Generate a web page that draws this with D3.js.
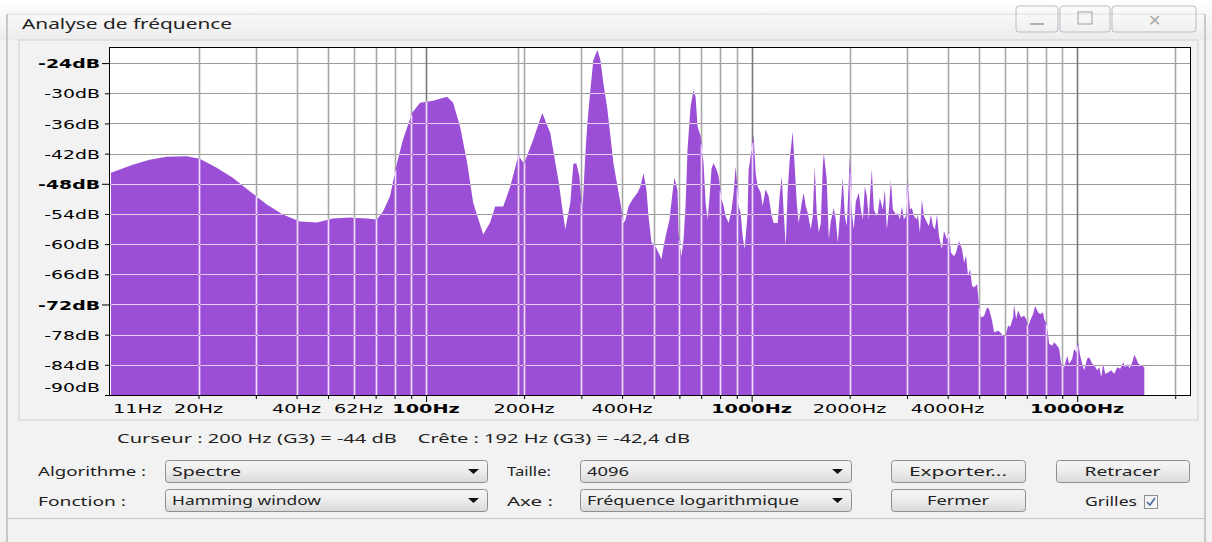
<!DOCTYPE html>
<html><head><meta charset="utf-8">
<script src="https://cdn.jsdelivr.net/npm/d3@7"></script>
<style>body{margin:0;background:#fff}svg{display:block}</style>
</head><body>
<svg id="c" width="1212" height="542"></svg>
<script>
// ---------- DATA ----------
const freqs = [10.77,12.55,14.15,15.96,18.39,20.17,22.75,25.48,28.74,32.42,36.31,40.96,46.19,51.73,58.37,65.84,70.67,73.74,77.48,81.44,84.97,90.56,95.83,105.1,116.0,121.1,127.3,133.7,139.5,149.8,157.3,163.1,172.6,181.3,187.5,192,200,213.4,227.5,240.7,254.8,267.7,277.4,283.4,289.4,295.7,302.0,308.5,312.9,319.6,326.5,335.9,343.1,350.5,360.6,368.4,376.3,387.1,395.4,403.9,409.6,418.4,430.4,445.9,455.6,465.3,475.3,482.1,492.5,506.6,517.5,528.6,536.2,547.7,559.4,571.4,579.6,592.0,596.3,609.1,617.8,626.6,635.5,649.1,663.1,672.6,682.2,696.9,711.9,722.1,732.4,742.9,753.4,764.2,780.6,791.8,808.8,820.3,831.8,849.7,868.0,880.3,893.0,905.6,912.0,925.1,938.2,951.6,971.9,979.0,992.9,1014,1029,1043,1066,1081,1104,1128,1152,1169,1202,1219,1237,1255,1273,1291,1309,1337,1356,1376,1395,1425,1445,1466,1487,1519,1541,1562,1585,1608,1631,1654,1666,1701,1726,1750,1788,1813,1839,1878,1905,1933,1960,1989,2003,2032,2060,2089,2134,2165,2196,2227,2259,2291,2307,2340,2373,2424,2441,2476,2529,2566,2602,2640,2677,2715,2774,2813,2853,2894,2936,2978,3020,3063,3107,3151,3218,3241,3287,3334,3382,3455,3504,3554,3605,3657,3709,3762,3842,3897,3981,4038,4096,4183,4243,4335,4428,4492,4556,4621,4687,4754,4822,4925,4995,5067,5175,5286,5362,5476,5555,5714,5796,5921,6005,6134,6221,6355,6401,6492,6585,6726,6870,6968,7067,7169,7322,7427,7586,7695,7860,7916,8085,8200,8377,8496,8679,8803,8929,9120,9316,9449,9652,9790,9930,10072,10214,10361,10508,10735,10888,11122,11281,11523,11688,11854,12023,12195,12456,12723,12995,13274,13559,13850,14049,14350,14454,14764,14976,15190,15409,15739,16077];
const levels = [-45.8,-44.2,-43.2,-42.6,-42.5,-43.0,-44.8,-46.8,-49.5,-52.1,-54.1,-55.5,-55.7,-54.9,-54.7,-54.9,-55.1,-53.5,-50.5,-43.8,-39.2,-33.9,-31.9,-31.5,-30.7,-31.9,-36.7,-43.8,-51.7,-58.1,-55.7,-52.5,-52.5,-48.6,-45.0,-42.4,-44.0,-39.2,-33.9,-37.9,-47.2,-57.1,-51.7,-44.0,-43.9,-46.5,-53.8,-42.0,-36.0,-29.4,-23.4,-21.4,-23.4,-28.0,-33.3,-38.6,-43.9,-48.5,-51.8,-55.8,-55.2,-52.5,-51.1,-49.8,-48.5,-45.9,-49.2,-54.4,-59.7,-60.4,-61.7,-63.0,-60.5,-57.7,-55.1,-49.8,-46.8,-49.3,-57.7,-62.4,-59.0,-52.5,-41.2,-32.7,-29.4,-30.7,-36.6,-38.5,-43.9,-51.8,-55.1,-50.5,-44.9,-43.9,-45.2,-46.5,-51.1,-52.4,-54.4,-55.8,-53.1,-49.8,-44.5,-49.1,-52.4,-53.8,-58.4,-61.0,-53.8,-45.2,-42.5,-38.3,-45.9,-48.5,-49.8,-52.4,-49.1,-50.5,-54.4,-55.8,-55.8,-50.5,-46.5,-53.8,-60.4,-49.1,-43.2,-37.6,-44.5,-51.8,-55.8,-51.8,-49.8,-52.4,-53.8,-57.1,-54.4,-44.5,-53.8,-57.7,-55.8,-44.5,-41.9,-47.2,-59.0,-55.5,-52.8,-55.1,-59.7,-52.5,-46.8,-54.4,-56.4,-47.2,-42.2,-53.8,-57.1,-51.5,-49.8,-53.1,-55.1,-48.5,-50.5,-55.1,-51.1,-45.1,-53.1,-54.4,-53.8,-50.8,-53.1,-49.1,-57.1,-53.1,-47.2,-53.1,-54.1,-53.8,-55.1,-52.5,-55.1,-54.4,-47.2,-53.1,-52.8,-54.4,-55.1,-54.1,-57.7,-51.1,-54.4,-55.7,-56.4,-54.1,-56.4,-57.1,-54.1,-58.4,-61.0,-57.4,-59.1,-57.4,-61.7,-62.4,-61.7,-59.4,-61.0,-63.7,-62.3,-66.3,-65.0,-68.3,-68.6,-68.0,-72.2,-74.6,-74.3,-72.6,-72.9,-75.2,-77.5,-77.2,-77.5,-78.2,-78.5,-76.2,-76.5,-74.6,-72.0,-74.9,-73.2,-74.6,-74.2,-74.9,-76.5,-75.2,-73.9,-72.3,-73.6,-73.9,-73.6,-74.9,-76.2,-79.8,-80.2,-79.5,-80.2,-80.8,-83.8,-84.5,-82.2,-83.8,-82.8,-80.8,-81.5,-79.5,-82.2,-83.8,-85.1,-82.8,-82.5,-83.8,-84.1,-85.1,-84.5,-86.4,-83.8,-85.8,-85.5,-85.1,-85.8,-84.5,-84.8,-83.5,-84.5,-83.8,-84.8,-83.5,-82.0,-82.8,-83.8,-84.1,-84.5];

const yTickValues = [-24,-30,-36,-42,-48,-54,-60,-66,-72,-78,-84,-90];
const yMajor = [-24,-48,-72];
const xTickValues = [20,30,40,50,60,70,80,90,100,200,300,400,500,600,700,800,900,1000,2000,3000,4000,5000,6000,7000,8000,9000,10000,20000];
const xMajor = [100,1000,10000];
const xLabelFreqs = [10.77,20,40,62,100,200,400,1000,2000,4000,10000];
const xLabelTexts = ["11Hz","20Hz","40Hz","62Hz","100Hz","200Hz","400Hz","1000Hz","2000Hz","4000Hz","10000Hz"];
const cursorFreq = 192;
const infoText = "Curseur : 200 Hz (G3) = -44 dB    Crête : 192 Hz (G3) = -42,4 dB";

const spectrum = freqs.map((f,i)=>({f, db: levels[i]}));

// ---------- SETUP ----------
const svg = d3.select("#c");
const P = {l:109, t:47, r:1190, b:395};
const x = d3.scaleLog().domain([10.77, 22050]).range([111, 1189]);
const y = d3.scaleLinear().domain([-90, -20.8]).range([P.b, P.t]);
const purple = "#9b4fd6";
const uiFont = "'Noto Sans', 'Open Sans', sans-serif";
const axFont = "'DejaVu Sans', Verdana, sans-serif";

function fit(sel, w){ sel.attr("textLength", w).attr("lengthAdjust","spacingAndGlyphs"); return sel; }
function stretch(sel, k){ sel.each(function(){ const w=this.getComputedTextLength(); d3.select(this).attr("textLength", w*k).attr("lengthAdjust","spacingAndGlyphs"); }); }

const defs = svg.append("defs");

// window background
svg.append("rect").attr("width",1212).attr("height",542).attr("fill","#f2f2f2");
const tg = defs.append("linearGradient").attr("id","tbar").attr("x1",0).attr("y1",0).attr("x2",0).attr("y2",1);
tg.append("stop").attr("offset",0).attr("stop-color","#ffffff");
tg.append("stop").attr("offset",1).attr("stop-color","#ececec");
svg.append("rect").attr("x",0).attr("y",0).attr("width",1212).attr("height",40).attr("fill","url(#tbar)");
svg.append("line").attr("x1",7).attr("x2",7).attr("y1",14).attr("y2",542).attr("stroke","#c8c8c8").attr("stroke-width",2);
svg.append("line").attr("x1",7).attr("x2",1205).attr("y1",14).attr("y2",14).attr("stroke","#dcdcdc");
svg.append("line").attr("x1",1205).attr("x2",1205).attr("y1",14).attr("y2",542).attr("stroke","#c8c8c8").attr("stroke-width",2);

// title
fit(svg.append("text").attr("x",22).attr("y",29).attr("font-family",uiFont).attr("font-size",14).attr("fill","#222").text("Analyse de fréquence"), 210);

// window buttons
const wb = svg.append("g").attr("fill","none").attr("stroke","#b8bcc4");
wb.append("rect").attr("x",1016).attr("y",6).attr("width",42).attr("height",26).attr("rx",3);
wb.append("rect").attr("x",1060).attr("y",6).attr("width",50).attr("height",26).attr("rx",3);
wb.append("rect").attr("x",1112).attr("y",6).attr("width",84).attr("height",26).attr("rx",3);
svg.append("line").attr("x1",1030).attr("x2",1044).attr("y1",24).attr("y2",24).attr("stroke","#b0b0b0").attr("stroke-width",2);
svg.append("rect").attr("x",1078).attr("y",12).attr("width",14).attr("height",12).attr("fill","none").attr("stroke","#a0a0a0");
svg.append("text").attr("x",1154).attr("y",26).attr("text-anchor","middle").attr("font-family",uiFont).attr("font-size",16).attr("fill","#a8a8a8").text("✕");

// plot panel border
svg.append("rect").attr("x",19).attr("y",40).attr("width",1179).attr("height",380).attr("fill","none").attr("stroke","#d0d0d0");

// plot area
svg.append("rect").attr("x",P.l).attr("y",P.t).attr("width",P.r-P.l).attr("height",P.b-P.t).attr("fill","#fff");

// spectrum outline in screen space (through the scales)
const pts = spectrum.map(d=>[x(d.f), y(d.db)]);
function curveYAt(px){
  if (px < pts[0][0] || px > pts[pts.length-1][0]) return null;
  for (let i=1;i<pts.length;i++) if (px <= pts[i][0]) {
    const a=pts[i-1], b=pts[i]; const t=(px-a[0])/(b[0]-a[0]); return a[1]+t*(b[1]-a[1]);
  }
  return null;
}
function coveredSpans(yl){
  const out=[]; let start=null;
  for (let i=0;i<pts.length;i++){
    const xi=pts[i][0], yi=pts[i][1]; const inside = yi<=yl;
    if (i===0){ if(inside) start=xi; continue; }
    const xp=pts[i-1][0], yp=pts[i-1][1]; const prev = yp<=yl;
    if (inside!==prev){ const t=(yl-yp)/(yi-yp); const xc=xp+t*(xi-xp); if(inside) start=xc; else { out.push([start,xc]); start=null; } }
  }
  if (start!==null) out.push([start, pts[pts.length-1][0]]);
  return out;
}
function uncoveredSpans(yl){
  const cov = coveredSpans(yl); const out=[]; let cur=P.l;
  cov.forEach(([a,b])=>{ if (a>cur) out.push([cur,a]); cur=Math.max(cur,b); });
  if (cur<P.r) out.push([cur,P.r]);
  return out;
}

const hLinesY = yTickValues.filter(v=>v>-90).map(v=>Math.round(y(v))+0.5);
const vLines = xTickValues.concat([cursorFreq]).map(f=>({f, px: Math.round(x(f))+0.5}));
vLines.forEach(d=>{ const c = curveYAt(d.px); d.cy = (c===null) ? P.b : Math.max(c, P.t); });

// grey grid on the white part
const gGrey = svg.append("g");
hLinesY.forEach(yl=> uncoveredSpans(yl).forEach(([a,b])=>
  gGrey.append("line").attr("x1",a).attr("x2",b).attr("y1",yl).attr("y2",yl).attr("stroke","#9a9a9a")));
vLines.forEach(d=> gGrey.append("line").attr("x1",d.px).attr("x2",d.px).attr("y1",P.t).attr("y2",d.cy)
  .attr("stroke", xMajor.includes(d.f) ? "#7a7a7a" : "#a8a8a8").attr("stroke-width",1.6));

// light grid under the spectrum (seen through gaps cut in the fill)
const gLight = svg.append("g");
let holes = "";
hLinesY.forEach(yl=> coveredSpans(yl).forEach(([a,b])=>{
  gLight.append("rect").attr("x",a).attr("y",yl-0.6).attr("width",Math.max(0,b-a)).attr("height",1.2).attr("fill","#e6cdf0");
  holes += `M${a},${yl-0.6}H${b}V${yl+0.6}H${a}Z`;
}));
vLines.filter(d=>d.cy<P.b).forEach(d=>{
  gLight.append("rect").attr("x",d.px-0.8).attr("y",d.cy).attr("width",1.6).attr("height",P.b-d.cy).attr("fill","#efdcf5");
  holes += `M${d.px-0.8},${d.cy}H${d.px+0.8}V${P.b}H${d.px-0.8}Z`;
});

// spectrum fill with grid gaps
const area = d3.area().x(d=>x(d.f)).y0(P.b).y1(d=>y(d.db));
svg.append("path").attr("d", area(spectrum) + holes).attr("fill", purple).attr("fill-rule","evenodd");

svg.append("rect").attr("x",P.l+0.5).attr("y",P.t+0.5).attr("width",P.r-P.l).attr("height",P.b-P.t).attr("fill","none").attr("stroke","#000");

// y axis
const yAxis = d3.axisLeft(y).tickValues(yTickValues).tickFormat(d=>d+"dB").tickSizeOuter(0);
const gy = svg.append("g").attr("transform",`translate(${P.l},0)`).call(yAxis);
gy.select(".domain").remove();
gy.selectAll(".tick line").attr("x2", d=> yMajor.includes(d) ? -7 : -4).attr("stroke","#000");
gy.selectAll(".tick text").attr("x",-9).attr("font-family",axFont).attr("font-size",13)
  .attr("font-weight", d=> yMajor.includes(d) ? "bold" : "normal").attr("fill","#000")
  .attr("dy", d=> d===-90 ? "-0.3em" : "0.36em");
stretch(gy.selectAll(".tick text"), 1.45);

// x axis
const xAxis = d3.axisBottom(x).tickValues(xTickValues).tickFormat("").tickSizeOuter(0);
const gx = svg.append("g").attr("transform",`translate(0,${P.b})`).call(xAxis);
gx.select(".domain").remove();
gx.selectAll(".tick line").attr("y2", d=> xMajor.includes(d) ? 7 : 4).attr("stroke","#000");
const gl = svg.append("g").attr("transform",`translate(0,${P.b})`);
gl.selectAll("text").data(xLabelFreqs).join("text")
  .attr("x", (d,i)=> i===0 ? x(d)+2 : x(d)).attr("y",18)
  .attr("text-anchor",(d,i)=> i===0 ? "start" : "middle")
  .attr("font-family",axFont).attr("font-size",13)
  .attr("font-weight", d=> xMajor.includes(d) ? "bold" : "normal")
  .text((d,i)=>xLabelTexts[i]);
stretch(gl.selectAll("text"), 1.48);

// info text
fit(svg.append("text").attr("x",117).attr("y",443).attr("font-family",uiFont).attr("font-size",12.5).attr("fill","#222").style("white-space","pre").text(infoText), 573);

// controls
const bg = defs.append("linearGradient").attr("id","btn").attr("x1",0).attr("y1",0).attr("x2",0).attr("y2",1);
bg.append("stop").attr("offset",0).attr("stop-color","#f6f6f6");
bg.append("stop").attr("offset",0.5).attr("stop-color","#ececec");
bg.append("stop").attr("offset",1).attr("stop-color","#d9d9d9");

function label(tx, x0, yb, w){ fit(svg.append("text").attr("x",x0).attr("y",yb).attr("font-family",uiFont).attr("font-size",13).attr("fill","#222").text(tx), w); }
function combo(x0,y0,w,h,tx,tw){
  svg.append("rect").attr("x",x0+0.5).attr("y",y0+0.5).attr("width",w).attr("height",h).attr("rx",3).attr("fill","url(#btn)").attr("stroke","#8e8f8f");
  label(tx, x0+7, y0+h/2+5, tw);
  svg.append("path").attr("d",`M${x0+w-19},${y0+h/2-2}h11l-5.5,5z`).attr("fill","#111");
}
function button(x0,y0,w,h,tx,tw){
  svg.append("rect").attr("x",x0+0.5).attr("y",y0+0.5).attr("width",w).attr("height",h).attr("rx",3).attr("fill","url(#btn)").attr("stroke","#8e8f8f");
  fit(svg.append("text").attr("x",x0+w/2).attr("y",y0+h/2+5).attr("text-anchor","middle").attr("font-family",uiFont).attr("font-size",13).attr("fill","#222").text(tx), tw);
}
label("Algorithme :", 38, 476, 108);
label("Fonction :", 38, 506, 88);
combo(165,460,322,22,"Spectre",69);
combo(165,489,322,22,"Hamming window",149);
label("Taille:", 507, 476, 44);
label("Axe :", 507, 506, 46);
combo(580,460,271,22,"4096",42);
combo(580,489,271,22,"Fréquence logarithmique",212);
button(891,460,134,22,"Exporter...",98);
button(891,489,134,22,"Fermer",62);
button(1056,460,133,22,"Retracer",76);
label("Grilles", 1085, 506, 52);
svg.append("rect").attr("x",1144.5).attr("y",495.5).attr("width",13).attr("height",13).attr("fill","#f4f4f4").attr("stroke","#8e8f8f");
svg.append("path").attr("d","M1147,502l3,3l5,-7").attr("fill","none").attr("stroke","#4a6a9a").attr("stroke-width",1.6);

// bottom separator
svg.append("line").attr("x1",8).attr("x2",1204).attr("y1",518.5).attr("y2",518.5).attr("stroke","#c8c8c8");
</script>
</body></html>
